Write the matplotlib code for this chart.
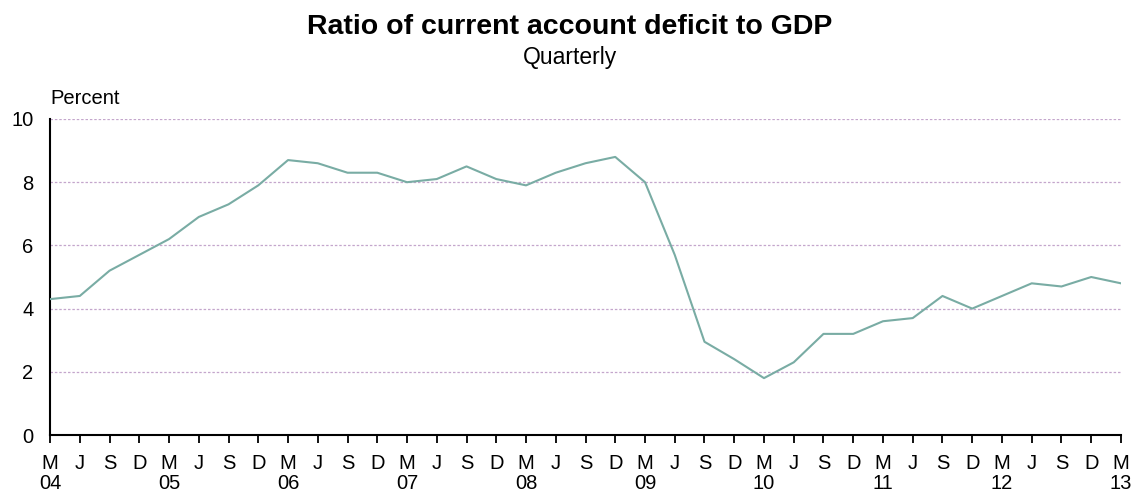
import matplotlib
matplotlib.use("Agg")
import matplotlib.pyplot as plt

plt.rcParams['font.family'] = ['Liberation Sans', 'DejaVu Sans']

# Quarter labels (month initial) and year labels
months = ["M", "J", "S", "D"] * 9 + ["M"]
years = ["04", "05", "06", "07", "08", "09", "10", "11", "12", "13"]

# Current account deficit as a share of GDP, percent, M04 .. M13
deficit = [4.3, 4.4, 5.2, 5.7, 6.2, 6.9, 7.3, 7.9,
           8.7, 8.6, 8.3, 8.3, 8.0, 8.1, 8.5, 8.1,
           7.9, 8.3, 8.6, 8.8, 8.0, 5.7, 2.95, 2.4,
           1.8, 2.3, 3.2, 3.2, 3.6, 3.7, 4.4, 4.0,
           4.4, 4.8, 4.7, 5.0, 4.8]

y_ticks = [0, 2, 4, 6, 8, 10]

fig = plt.figure(figsize=(11.4, 4.95), dpi=100)
ax = fig.add_axes([0.0439, 0.1212, 0.9394, 0.6384])

x = list(range(len(deficit)))
ax.plot(x, deficit, color="#79aca4", lw=1.5, zorder=3)

ax.set_xlim(0, len(deficit) - 1)
ax.set_ylim(0, 10)

for yv in y_ticks[1:]:
    ax.axhline(yv, color="#c4a6cc", lw=0.9, ls=(0, (2, 1.5)), zorder=1)

ax.set_yticks(y_ticks)
ax.set_yticklabels([str(v) for v in y_ticks], fontsize=14.5)
ax.tick_params(axis="y", length=0, pad=12)

labels = []
for i, m in enumerate(months):
    if i % 4 == 0:
        labels.append(m + "\n" + years[i // 4])
    else:
        labels.append(m + "\n")
ax.set_xticks(x)
ax.set_xticklabels(labels, fontsize=14.5, linespacing=1.05)
ax.tick_params(axis="x", length=6, width=1.3, direction="out", pad=8, color="black")

for s in ["top", "right"]:
    ax.spines[s].set_visible(False)
ax.spines["left"].set_linewidth(1.5)
ax.spines["bottom"].set_linewidth(1.5)

fig.text(0.5, 0.945, "Ratio of current account deficit to GDP", ha="center",
         va="center", fontsize=20.5, fontweight="bold")
fig.text(0.5, 0.884, "Quarterly", ha="center", va="center", fontsize=16.5)
fig.text(0.044, 0.80, "Percent", ha="left", va="center", fontsize=14.5)

fig.savefig("out.png", dpi=100)
